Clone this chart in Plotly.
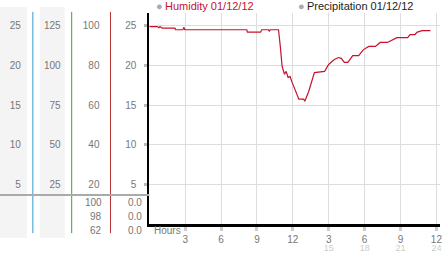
import plotly.graph_objects as go

W, H = 442, 253

# ---- data ----
hours = [0, 0.66, 0.8, 0.9, 1.07, 2.14, 2.2, 2.8, 2.9, 2.96, 8.15, 8.2, 9.3, 9.4, 9.96, 10.04, 10.1,
         10.8, 10.95, 11.1, 11.3, 11.44, 11.6, 11.77, 11.93, 12.2, 12.5, 12.9, 13.0, 13.33, 13.6,
         13.8, 14.65, 14.98, 15.2, 15.47, 15.8, 16.05, 16.3, 16.6, 17.0, 17.5, 17.9, 18.35, 18.9,
         19.3, 19.9, 20.3, 20.7, 21.6, 21.8, 22.2, 22.4, 22.8, 23.5]
humidity = [24.9, 24.9, 24.75, 24.9, 24.7, 24.7, 24.5, 24.5, 24.8, 24.5, 24.5, 24.2, 24.2, 24.5, 24.5, 24.3, 24.5,
            24.5, 22.4, 19.9, 18.9, 19.25, 18.5, 18.6, 17.9, 16.75, 15.75, 15.75, 15.5, 16.75, 18.0,
            19.1, 19.25, 20.1, 20.4, 20.75, 21.0, 20.9, 20.4, 20.4, 21.25, 21.25, 22.0, 22.4, 22.4,
            22.9, 22.9, 23.25, 23.5, 23.5, 23.9, 23.9, 24.2, 24.4, 24.4]

x_tickvals = [3, 6, 9, 12, 15, 18, 21, 24]
x_ticktext = ["3", "6", "9", "12", "3", "6", "9", "12"]
x2_tickvals = [15, 18, 21, 24]
x2_ticktext = ["15", "18", "21", "24"]

col1_ticks = [5, 10, 15, 20, 25]
col2_ticks = [25, 50, 75, 100, 125]
col3_ticks = [20, 40, 60, 80, 100]
col4_ticks = [5, 10, 15, 20, 25]
col3_bottom = ["100", "98", "62"]
col4_bottom = ["0.0", "0.0", "0.0"]

legend_items = ["Humidity 01/12/12", "Precipitation 01/12/12"]

YMAX = 26.625
FONT = "Liberation Sans, Arial, sans-serif"
LBL = "#777777"

def px(x):
    return x / W

def py(y):
    return 1 - y / H

fig = go.Figure()
fig.add_trace(go.Scatter(x=hours, y=humidity, mode="lines",
                         line=dict(color="#c8102e", width=1.2), showlegend=False,
                         hoverinfo="skip"))
# invisible traces to activate overlay axes
fig.add_trace(go.Scatter(x=[None], y=[None], xaxis="x2", yaxis="y", showlegend=False))
for ya in ["y2", "y3", "y4"]:
    fig.add_trace(go.Scatter(x=[None], y=[None], yaxis=ya, showlegend=False))

ydom = [py(226), py(13)]
xdom = [px(150), 1.0]

def side_axis(pos, scale, ticks, standoff):
    return dict(domain=ydom, range=[0, YMAX * scale], overlaying="y", anchor="free",
                position=pos, side="left", showgrid=False, showline=False, zeroline=False,
                tickvals=ticks, ticks="", ticklabelstandoff=standoff,
                tickfont=dict(family=FONT, size=10, color=LBL))

layout = dict(
    width=W, height=H, margin=dict(l=0, r=0, t=0, b=0),
    paper_bgcolor="white", plot_bgcolor="white",
    xaxis=dict(domain=xdom, range=[0, 24.3], tickvals=x_tickvals, ticktext=x_ticktext,
               showgrid=True, gridcolor="#dddddd", gridwidth=1, zeroline=False,
               showline=True, linecolor="black", linewidth=3,
               ticks="outside", ticklen=4, tickwidth=3, tickcolor="#cccccc",
               ticklabelstandoff=0, ticklabeloverflow="allow",
               tickfont=dict(family=FONT, size=10, color=LBL)),
    xaxis2=dict(domain=xdom, range=[0, 24.3], overlaying="x", anchor="y", side="bottom",
                tickvals=x2_tickvals, ticktext=x2_ticktext, showgrid=False, showline=False,
                zeroline=False, ticks="", ticklabelstandoff=17, ticklabeloverflow="allow",
                tickfont=dict(family=FONT, size=9, color="#cccccc")),
    yaxis=dict(domain=ydom, range=[0, YMAX], tickvals=col4_ticks,
               showgrid=True, gridcolor="#dddddd", gridwidth=1, zeroline=False,
               showline=True, linecolor="black", linewidth=2,
               ticks="outside", ticklen=3, tickwidth=3, tickcolor="#bbbbbb",
               ticklabelstandoff=6,
               tickfont=dict(family=FONT, size=10, color=LBL)),
    yaxis2=side_axis(px(33), 1, col1_ticks, 12),
    yaxis3=side_axis(px(72), 5, col2_ticks, 11),
    yaxis4=side_axis(px(111), 4, col3_ticks, 11),
)
fig.update_layout(**layout)

shapes = []
# grey column backgrounds
for x0, x1 in [(0, 27), (40, 65)]:
    shapes.append(dict(type="rect", xref="paper", yref="paper", x0=px(x0), x1=px(x1),
                       y0=py(240), y1=py(7), fillcolor="#f4f4f4", line=dict(width=0), layer="below"))
# coloured vertical separators
for xx, col in [(33, "#3399cc"), (72, "#33aa33"), (111, "#bb3333")]:
    shapes.append(dict(type="line", xref="paper", yref="paper", x0=px(xx), x1=px(xx),
                       y0=py(235), y1=py(12), line=dict(color=col, width=1)))
# horizontal grey separator
shapes.append(dict(type="line", xref="paper", yref="paper", x0=0, x1=px(150),
                   y0=py(196.5), y1=py(196.5), line=dict(color="#aaaaaa", width=2)))
fig.update_layout(shapes=shapes)

ann = []
for i, t in enumerate(col3_bottom):
    ann.append(dict(text=t, xref="paper", yref="paper", x=px(104), y=py(204 + 14 * i),
                    xanchor="right", yanchor="middle", showarrow=False,
                    font=dict(family=FONT, size=10, color=LBL)))
for i, t in enumerate(col4_bottom):
    ann.append(dict(text=t, xref="paper", yref="paper", x=px(145), y=py(204 + 14 * i),
                    xanchor="right", yanchor="middle", showarrow=False,
                    font=dict(family=FONT, size=10, color=LBL)))
ann.append(dict(text="Hours", xref="paper", yref="paper", x=px(153), y=py(232),
                xanchor="left", yanchor="middle", showarrow=False,
                font=dict(family=FONT, size=10, color=LBL)))
# legend
for (xx, txt, col) in [(155, legend_items[0], "#c8102e"), (297, legend_items[1], "#222222")]:
    ann.append(dict(text="●", xref="paper", yref="paper", x=px(xx), y=py(6.5),
                    xanchor="left", yanchor="middle", showarrow=False,
                    font=dict(family=FONT, size=11, color="#aaaaaa")))
    ann.append(dict(text=txt, xref="paper", yref="paper", x=px(xx + 9), y=py(6.5),
                    xanchor="left", yanchor="middle", showarrow=False,
                    font=dict(family=FONT, size=11, color=col)))
fig.update_layout(annotations=ann)

fig.write_html("out.html")
